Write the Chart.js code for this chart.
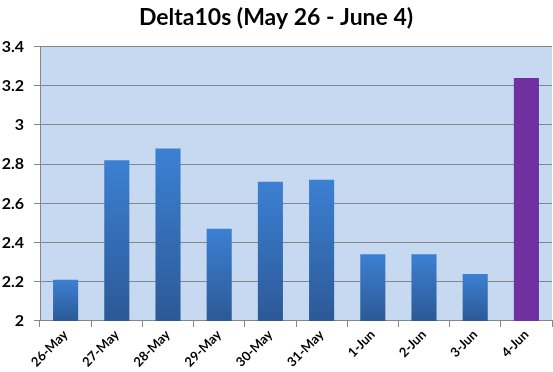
<!DOCTYPE html>
<html>
<head>
<meta charset="utf-8">
<script src="https://cdn.jsdelivr.net/npm/chart.js@4/dist/chart.umd.min.js"></script>
<style>
html,body{margin:0;padding:0;background:#fff;}
#wrap{width:553px;height:372px;}
</style>
</head>
<body>
<div id="wrap"><canvas id="c" width="553" height="372"></canvas></div>
<script>
const categories = ["26-May","27-May","28-May","29-May","30-May","31-May","1-Jun","2-Jun","3-Jun","4-Jun"];
const values = [2.21, 2.82, 2.88, 2.47, 2.71, 2.72, 2.34, 2.34, 2.24, 3.24];
const yTicks = [2, 2.2, 2.4, 2.6, 2.8, 3, 3.2, 3.4];
const titleText = "Delta10s (May 26 - June 4)";
const highlightIndex = 9;

const FONT = "Lato, 'Open Sans', sans-serif";

const plotBg = {
  id: 'plotBg',
  beforeDraw(chart) {
    const {ctx, chartArea: a} = chart;
    ctx.save();
    ctx.fillStyle = '#c6d9f0';
    ctx.fillRect(a.left, a.top, a.right - a.left, a.bottom - a.top);
    ctx.restore();
  }
};

function barColor(context) {
  if (context.dataIndex === highlightIndex) return '#7030a0';
  const chart = context.chart;
  const y = chart.scales.y;
  if (!y || !chart.chartArea) return '#3a78c8';
  const top = y.getPixelForValue(context.raw);
  const bottom = y.getPixelForValue(y.min);
  const g = chart.ctx.createLinearGradient(0, top, 0, bottom);
  g.addColorStop(0, '#3c80d3');
  g.addColorStop(1, '#2c5996');
  return g;
}

new Chart(document.getElementById('c'), {
  type: 'bar',
  data: {
    labels: categories,
    datasets: [{
      data: values,
      backgroundColor: barColor,
      borderWidth: 0,
      barPercentage: 0.49,
      categoryPercentage: 1.0
    }]
  },
  options: {
    responsive: false,
    animation: false,
    devicePixelRatio: 1,
    layout: {padding: {left: 0, right: 1, top: 0, bottom: 2}},
    plugins: {
      legend: {display: false},
      tooltip: {enabled: false},
      title: {
        display: true,
        text: titleText,
        color: '#000',
        font: {family: FONT, size: 23, weight: 'bold'},
        padding: {top: 4, bottom: 15}
      }
    },
    scales: {
      x: {
        grid: {display: true, drawOnChartArea: false, drawTicks: true, tickLength: 6, color: '#868686', offset: true},
        border: {display: true, color: '#868686', width: 1},
        ticks: {
          color: '#000',
          font: {family: FONT, size: 13, weight: 'bold'},
          maxRotation: 45, minRotation: 45,
          autoSkip: false,
          padding: 0
        }
      },
      y: {
        min: 2, max: 3.4,
        afterBuildTicks(scale) { scale.ticks = yTicks.map(v => ({value: v})); },
        afterFit(scale) { scale.width = 40; },
        grid: {color: '#868686', lineWidth: 1, tickLength: 6, drawTicks: true},
        border: {display: true, color: '#868686', width: 1},
        ticks: {
          color: '#000',
          font: {family: FONT, size: 16, weight: 'bold'},
          padding: 10,
          callback: v => String(Math.round(v * 10) / 10)
        }
      }
    }
  },
  plugins: [plotBg]
});
</script>
</body>
</html>
